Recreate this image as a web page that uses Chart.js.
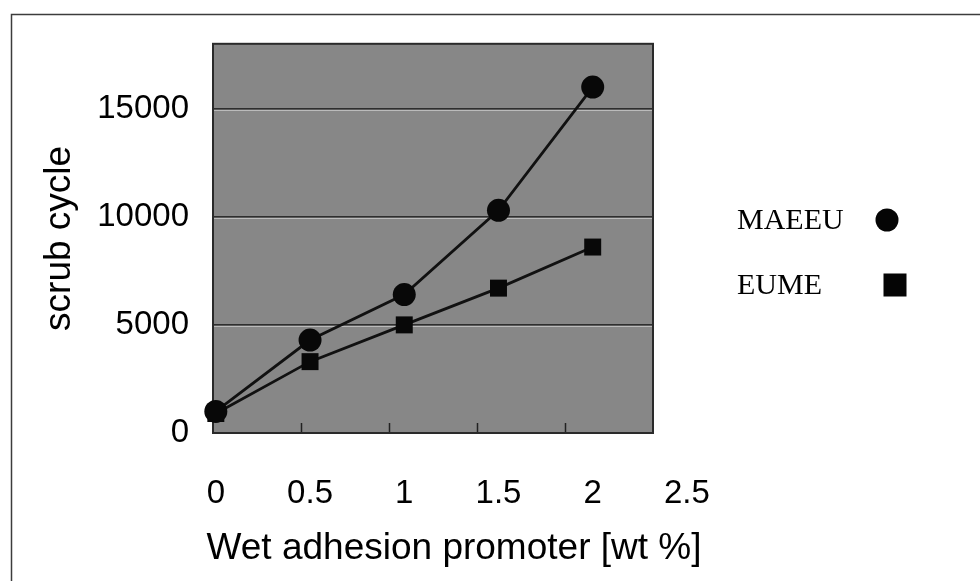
<!DOCTYPE html>
<html><head><meta charset="utf-8">
<script src="https://cdn.jsdelivr.net/npm/chart.js@4/dist/chart.umd.min.js"></script>
<style>
html,body{margin:0;padding:0;background:#fff;}
canvas{display:block;}
</style></head>
<body>
<canvas id="c" width="980" height="581"></canvas>
<script>
// ---- data ----
const xValues = [0, 0.5, 1, 1.5, 2];
const maeeuValues = [1000, 4300, 6400, 10300, 16000];
const eumeValues = [900, 3300, 5000, 6700, 8600];
const xTickLabels = [0, 0.5, 1, 1.5, 2, 2.5];
const yTickLabels = [0, 5000, 10000, 15000];
const frameTicks = [1, 2, 3, 4];
const seriesNames = ['MAEEU', 'EUME'];
const xTitle = 'Wet adhesion promoter [wt %]';
const yTitle = 'scrub cycle';

const SANS = "'Liberation Sans', Arial, sans-serif";
const SERIF = "'Liberation Serif', 'Times New Roman', serif";

const decor = {
  id: 'decor',
  beforeDraw(chart) {
    const {ctx, chartArea: a} = chart;
    ctx.save();
    ctx.fillStyle = '#ffffff';
    ctx.fillRect(0, 0, chart.width, chart.height);
    // outer frame (top + left)
    ctx.strokeStyle = '#3c3c3c';
    ctx.lineWidth = 1.5;
    ctx.beginPath();
    ctx.moveTo(11.5, chart.height);
    ctx.lineTo(11.5, 14.5);
    ctx.lineTo(chart.width, 14.5);
    ctx.stroke();
    // plot background
    ctx.fillStyle = '#878787';
    ctx.fillRect(a.left, a.top, a.right - a.left, a.bottom - a.top);
    ctx.restore();
  },
  beforeDatasetsDraw(chart) {
    const {ctx, chartArea: a} = chart;
    const y = chart.scales.y, x2 = chart.scales.x2;
    ctx.save();
    // light emboss under grid lines
    ctx.strokeStyle = 'rgba(230,230,230,0.55)';
    ctx.lineWidth = 1;
    yTickLabels.forEach(v => {
      if (v === 0) return;
      const py = Math.round(y.getPixelForValue(v)) + 1.5;
      ctx.beginPath(); ctx.moveTo(a.left, py); ctx.lineTo(a.right, py); ctx.stroke();
    });
    // small tick marks on the bottom edge
    ctx.strokeStyle = '#222';
    ctx.lineWidth = 1.5;
    frameTicks.forEach(v => {
      const px = Math.round(x2.getPixelForValue(v)) + 0.5;
      ctx.beginPath(); ctx.moveTo(px, a.bottom); ctx.lineTo(px, a.bottom - 10); ctx.stroke();
    });
    // plot border
    ctx.strokeStyle = '#2a2a2a';
    ctx.lineWidth = 2;
    ctx.strokeRect(a.left, a.top, a.right - a.left, a.bottom - a.top);
    ctx.restore();
  },
  afterDraw(chart) {
    const {ctx} = chart;
    ctx.save();
    // x axis title
    ctx.fillStyle = '#000';
    ctx.font = '37px ' + SANS;
    ctx.textAlign = 'center';
    ctx.textBaseline = 'middle';
    ctx.fillText(xTitle, 454, 549);
    // legend
    const legendY = [220, 285];
    const markerX = [887, 895];
    ctx.font = '30px ' + SERIF;
    ctx.textAlign = 'left';
    chart.data.datasets.forEach((ds, i) => {
      ctx.fillStyle = '#000';
      ctx.fillText(ds.label, 737, legendY[i] + 1);
      ctx.fillStyle = '#050505';
      if (ds.pointStyle === 'circle') {
        ctx.beginPath(); ctx.arc(markerX[i], legendY[i], 11.5, 0, Math.PI * 2); ctx.fill();
      } else {
        ctx.fillRect(markerX[i] - 11.5, legendY[i] - 11.5, 23, 23);
      }
    });
    ctx.restore();
  }
};

new Chart(document.getElementById('c'), {
  type: 'line',
  data: {
    datasets: [
      {
        label: seriesNames[0],
        data: xValues.map((x, i) => ({x, y: maeeuValues[i]})),
        borderColor: '#111',
        borderWidth: 2.8,
        pointStyle: 'circle',
        pointRadius: 11.5,
        pointBackgroundColor: '#080808',
        pointBorderColor: '#080808',
        pointBorderWidth: 0,
        tension: 0,
        clip: false
      },
      {
        label: seriesNames[1],
        data: xValues.map((x, i) => ({x, y: eumeValues[i]})),
        borderColor: '#111',
        borderWidth: 2.8,
        pointStyle: 'rect',
        pointRadius: 12,
        pointBackgroundColor: '#080808',
        pointBorderColor: '#080808',
        pointBorderWidth: 0,
        tension: 0,
        clip: false
      }
    ]
  },
  options: {
    responsive: false,
    devicePixelRatio: 1,
    animation: false,
    events: [],
    layout: {padding: {left: 0, top: 42, right: 327, bottom: 0}},
    plugins: {legend: {display: false}, tooltip: {enabled: false}, title: {display: false}},
    scales: {
      x: {
        type: 'linear',
        position: 'bottom',
        min: -0.015,
        max: 2.32,
        afterBuildTicks: s => { s.ticks = xTickLabels.map(v => ({value: v})); },
        afterFit: s => { s.height = 148; },
        grid: {display: false, drawTicks: false},
        border: {display: false},
        ticks: {
          autoSkip: false, maxRotation: 0, minRotation: 0,
          padding: 41, color: '#000',
          font: {family: SANS, size: 33},
          callback: v => String(v)
        }
      },
      x2: {
        type: 'linear',
        position: 'bottom',
        display: false,
        min: 0,
        max: 5
      },
      y: {
        type: 'linear',
        min: 0,
        max: 18000,
        afterBuildTicks: s => { s.ticks = yTickLabels.map(v => ({value: v})); },
        afterFit: s => { s.width = 213; },
        grid: {
          drawTicks: false,
          color: c => (c.tick && c.tick.value === 0) ? 'rgba(0,0,0,0)' : '#2e2e2e',
          lineWidth: 1.5
        },
        border: {display: false},
        ticks: {
          padding: 24, color: '#000',
          font: {family: SANS, size: 33},
          callback: v => String(v)
        },
        title: {
          display: true, text: yTitle, color: '#000',
          font: {family: SANS, size: 37},
          padding: {top: 38, bottom: 0}
        }
      }
    }
  },
  plugins: [decor]
});
</script>
</body></html>
